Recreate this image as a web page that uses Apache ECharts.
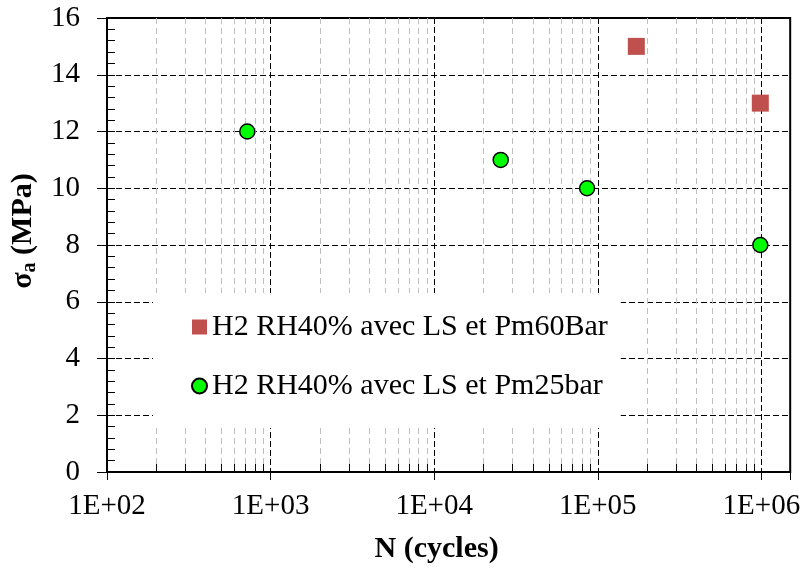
<!DOCTYPE html>
<html><head><meta charset="utf-8">
<script src="https://cdn.jsdelivr.net/npm/echarts@6/dist/echarts.min.js"></script>
<style>html,body{margin:0;padding:0;background:#fff}#c{width:803px;height:570px}</style>
</head><body><div id="c"></div>
<script>
// ---- data ----
const seriesNames = ['H2 RH40% avec LS et Pm60Bar', 'H2 RH40% avec LS et Pm25bar'];
const pm60Cycles = [172000, 985000];
const pm60Stress = [15, 13];
const pm25Cycles = [720, 25500, 86000, 985000];
const pm25Stress = [12, 11, 10, 8];
const xMin = 100, xMax = 1.5e6;
const yMin = 0, yMax = 16, yStep = 2;
const decadeStarts = [100, 1000, 10000, 100000, 1000000];
const minorMultipliers = [2, 3, 4, 5, 6, 7, 8, 9];
const xTitle = 'N (cycles)';

// ---- build ----
const FONT = '"Liberation Serif", "Times New Roman", serif';
const minorPositions = [];
decadeStarts.forEach(d => minorMultipliers.forEach(m => { if (d * m < xMax) minorPositions.push([d * m, 0]); }));

function fmtLog(v) {
  const l = Math.log10(v), e = Math.round(l);
  if (Math.abs(l - e) > 1e-6) return '';
  return '1E+' + (e < 10 ? '0' + e : e);
}

const chart = echarts.init(document.getElementById('c'), null, {renderer: 'canvas'});
chart.setOption({
  animation: false,
  backgroundColor: '#fff',
  grid: {left: 103, right: 11, top: 18, bottom: 98, show: true, borderColor: '#000', borderWidth: 2, backgroundColor: 'transparent'},
  legend: {
    orient: 'vertical', left: 153, top: 293,
    data: seriesNames,
    itemWidth: 15, itemHeight: 15, itemGap: 29,
    padding: [19, 13, 27, 38],
    backgroundColor: '#fff',
    selectedMode: false,
    textStyle: {fontFamily: FONT, fontSize: 30, color: '#000', lineHeight: 30}
  },
  xAxis: {
    type: 'log', logBase: 10, min: xMin, max: xMax,
    name: xTitle, nameLocation: 'middle', nameGap: 62,
    nameTextStyle: {fontFamily: FONT, fontSize: 30, fontWeight: 'bold', color: '#000', padding: [0, 24, 0, 0]},
    axisLine: {show: true, lineStyle: {color: '#000', width: 2}},
    axisTick: {show: true, inside: false, length: 8, lineStyle: {color: '#000', width: 1}},
    axisLabel: {formatter: fmtLog, fontFamily: FONT, fontSize: 29, color: '#000', margin: 20},
    splitLine: {show: true, lineStyle: {color: '#000', width: 1, type: [6, 3]}},
    minorTick: {show: false}
  },
  yAxis: [{
    type: 'value', min: yMin, max: yMax, interval: yStep,
    name: '{s|σ}{sub|a}{s| (MPa)}', nameLocation: 'middle', nameGap: 67, nameRotate: 90,
    nameTextStyle: {
      padding: [0, 0, 0, 28],
      rich: {
        s: {fontFamily: FONT, fontSize: 30, fontWeight: 'bold', color: '#000', lineHeight: 34},
        sub: {fontFamily: FONT, fontSize: 20, fontWeight: 'bold', color: '#000', verticalAlign: 'bottom', lineHeight: 20}
      }
    },
    axisLine: {show: true, lineStyle: {color: '#000', width: 2}},
    axisTick: {show: true, inside: false, length: 10, lineStyle: {color: '#000', width: 1}},
    axisLabel: {fontFamily: FONT, fontSize: 29, color: '#000', margin: 27},
    splitLine: {show: true, lineStyle: {color: '#000', width: 1, type: [6, 3]}}
  }, {
    type: 'value', min: yMin, max: yMax, interval: yStep, position: 'left', offset: 0,
    axisLine: {show: false},
    axisTick: {show: true, inside: true, length: 8, lineStyle: {color: '#000', width: 1}},
    axisLabel: {show: false},
    minorTick: {show: true, splitNumber: 5, length: 8, lineStyle: {color: '#000', width: 1}},
    splitLine: {show: false}
  }],
  series: [{
    type: 'custom', name: 'minor', silent: true, z: 1,
    data: minorPositions, encode: {x: 0, y: 1},
    renderItem: function (params, api) {
      const x = api.value(0);
      const t = api.coord([x, yMax]), b = api.coord([x, yMin]);
      const px = Math.round(t[0]) + 0.5;
      return {type: 'group', children: [
        {type: 'line', shape: {x1: px, y1: t[1], x2: px, y2: b[1]}, style: {stroke: '#bfbfbf', lineWidth: 1, lineDash: [6, 4]}},
        {type: 'line', shape: {x1: px, y1: b[1], x2: px, y2: b[1] - 8}, style: {stroke: '#000', lineWidth: 1}}
      ]};
    }
  }, {
    type: 'scatter', name: seriesNames[0], z: 5,
    symbol: 'rect', symbolSize: 17,
    itemStyle: {color: '#C0504D', opacity: 1},
    data: pm60Cycles.map((x, i) => [x, pm60Stress[i]])
  }, {
    type: 'scatter', name: seriesNames[1], z: 5,
    symbol: 'circle', symbolSize: 15,
    itemStyle: {color: '#00FF00', borderColor: '#000', borderWidth: 1.5, opacity: 1},
    data: pm25Cycles.map((x, i) => [x, pm25Stress[i]])
  }]
});
</script>
</body></html>
